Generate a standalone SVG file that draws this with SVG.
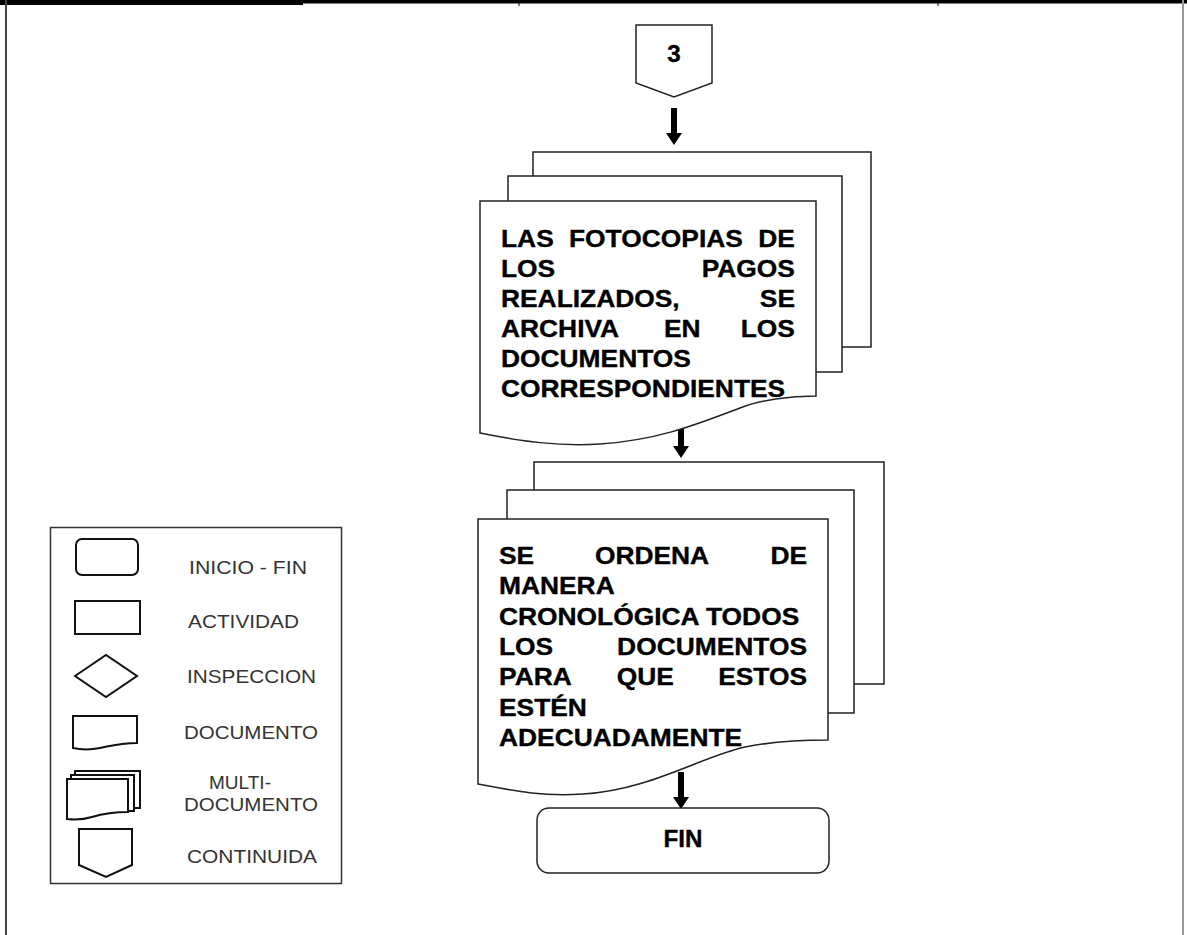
<svg xmlns="http://www.w3.org/2000/svg" width="1187" height="935" viewBox="0 0 1187 935">
<style>
.doc{fill:#fff;stroke:#222;stroke-width:1.5}
.sheet{fill:#fff;stroke:#222;stroke-width:1.5}
.main{font-family:"Liberation Sans",Arial,sans-serif;font-weight:bold;font-size:24.2px;fill:#000;stroke:#000;stroke-width:0.35}
.lg{font-family:"Liberation Sans",Arial,sans-serif;font-size:19px;fill:#333}
.lgs{fill:#fff;stroke:#111;stroke-width:2}
.conn{stroke:#000;stroke-width:6;fill:none}
</style>
<defs>
<marker id="ah" markerUnits="userSpaceOnUse" markerWidth="13" markerHeight="17" refX="0" refY="8" orient="auto">
<path d="M0,0 L12,8 L0,16 Z" fill="#000"/>
</marker>
</defs>
<rect width="1187" height="935" fill="#fff"/>
<g id="frame">
<rect x="0" y="0" width="303" height="5" fill="#000"/>
<rect x="303" y="0" width="884" height="3.5" fill="#000"/>
<line x1="519" y1="3" x2="519" y2="6" stroke="#000" stroke-width="1"/>
<line x1="938" y1="3" x2="938" y2="6" stroke="#000" stroke-width="1"/>
<line x1="6" y1="0" x2="6" y2="935" stroke="#444" stroke-width="2"/>
<line x1="1183" y1="0" x2="1183" y2="935" stroke="#999" stroke-width="2"/>
</g>
<g id="connectors">
<line class="conn" x1="674" y1="108" x2="674" y2="133" marker-end="url(#ah)"/>
<line class="conn" x1="681" y1="424" x2="681" y2="446" marker-end="url(#ah)"/>
<line class="conn" x1="681" y1="772" x2="681" y2="797" marker-end="url(#ah)"/>
</g>
<g id="node-continuation-3">
<path d="M636,25 H712 V83 L674,97 L636,83 Z" fill="#fff" stroke="#222" stroke-width="1.5"/>
<text class="main" x="674" y="62" text-anchor="middle">3</text>
</g>
<g id="node-multidoc-1">
<path class="sheet" d="M533,176 V152 H871 V347 H842"/>
<path class="sheet" d="M508,201 V176 H842 V372 H816"/>
<path class="doc" d="M480,201 H816 V396 C790,396 760,400 740,408 C700,423 660,440 600,444 C560,447 520,441 480,433 Z"/>
<g transform="translate(501,0) scale(1.09,1)">
<text class="main" x="0" y="247">LAS</text>
<text class="main" x="62.4" y="247">FOTOCOPIAS</text>
<text class="main" x="269.7" y="247" text-anchor="end">DE</text>
<text class="main" x="0" y="277">LOS</text>
<text class="main" x="269.7" y="277" text-anchor="end">PAGOS</text>
<text class="main" x="0" y="307">REALIZADOS,</text>
<text class="main" x="269.7" y="307" text-anchor="end">SE</text>
<text class="main" x="0" y="337">ARCHIVA</text>
<text class="main" x="149.5" y="337">EN</text>
<text class="main" x="269.7" y="337" text-anchor="end">LOS</text>
<text class="main" x="0" y="367">DOCUMENTOS</text>
<text class="main" x="0" y="397">CORRESPONDIENTES</text>
</g>
</g>
<g id="node-multidoc-2">
<path class="sheet" d="M534,490 V462 H884 V684 H854"/>
<path class="sheet" d="M507,519 V490 H854 V713 H828"/>
<path class="doc" d="M478,519 H828 V740 C800,740 770,742 745,747 C700,757 650,790 583,794 C540,797 510,790 478,784 Z"/>
<g transform="translate(499,0) scale(1.09,1)">
<text class="main" x="0" y="564">SE</text>
<text class="main" x="88" y="564">ORDENA</text>
<text class="main" x="282.6" y="564" text-anchor="end">DE</text>
<text class="main" x="0" y="594.3">MANERA</text>
<text class="main" x="0" y="624.7">CRONOLÓGICA TODOS</text>
<text class="main" x="0" y="655">LOS</text>
<text class="main" x="282.6" y="655" text-anchor="end">DOCUMENTOS</text>
<text class="main" x="0" y="685.3">PARA</text>
<text class="main" x="108" y="685.3">QUE</text>
<text class="main" x="282.6" y="685.3" text-anchor="end">ESTOS</text>
<text class="main" x="0" y="715.7">ESTÉN</text>
<text class="main" x="0" y="746">ADECUADAMENTE</text>
</g>
</g>
<g id="node-fin">
<rect x="537" y="808" width="292" height="65" rx="12" fill="#fff" stroke="#222" stroke-width="1.5"/>
<text class="main" x="683" y="847" text-anchor="middle">FIN</text>
</g>
<g id="legend">
<rect x="50.5" y="527.5" width="291" height="356" fill="#fff" stroke="#333" stroke-width="1.5"/>
<rect class="lgs" x="76" y="539" width="62" height="36" rx="6"/>
<text class="lg" x="189" y="574" textLength="118" lengthAdjust="spacingAndGlyphs">INICIO - FIN</text>
<rect class="lgs" x="75" y="601" width="65" height="33"/>
<text class="lg" x="188" y="628" textLength="111" lengthAdjust="spacingAndGlyphs">ACTIVIDAD</text>
<path class="lgs" d="M75,676 L106,655 L137,676 L106,697 Z"/>
<text class="lg" x="187" y="683" textLength="129" lengthAdjust="spacingAndGlyphs">INSPECCION</text>
<path class="lgs" d="M73,716 H137 V743 C120,743 110,746 100,748 C90,750 82,750 73,748 Z"/>
<text class="lg" x="184" y="739" textLength="134" lengthAdjust="spacingAndGlyphs">DOCUMENTO</text>
<path class="lgs" d="M75,778 V771 H140 V808 H134" stroke-width="2.5"/>
<path class="lgs" d="M71,782 V775 H134 V811 H128" stroke-width="2.5"/>
<path class="lgs" d="M67,779 H128 V812 C112,812 102,814 92,817 C82,820 75,820 67,819 Z"/>
<text class="lg" x="240" y="789" text-anchor="middle" textLength="62" lengthAdjust="spacingAndGlyphs" font-size="18">MULTI-</text>
<text class="lg" x="184" y="811" textLength="134" lengthAdjust="spacingAndGlyphs" font-size="18">DOCUMENTO</text>
<path class="lgs" d="M79,829 H132 V865 L106,877 L79,865 Z"/>
<text class="lg" x="187" y="863" textLength="130" lengthAdjust="spacingAndGlyphs">CONTINUIDA</text>
</g>
</svg>
